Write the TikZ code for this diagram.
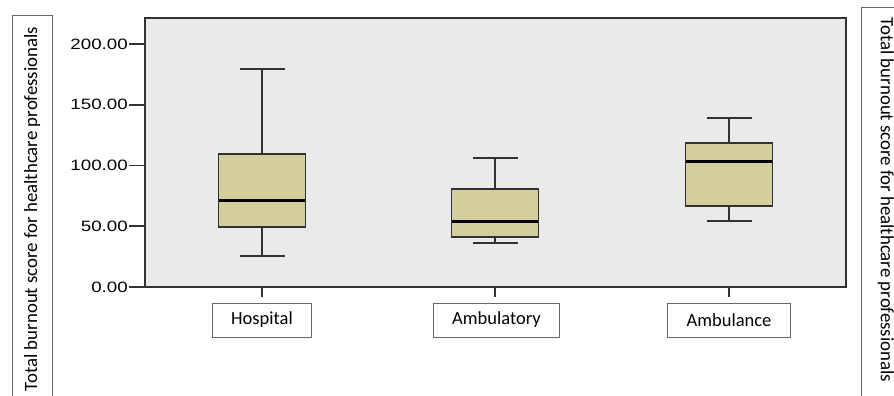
\documentclass[tikz,border=0pt]{standalone}
\usepackage{fontspec}
\setmainfont{Carlito}
\newfontfamily\axisfont[FakeStretch=1.25]{Liberation Sans}
\definecolor{plotbg}{RGB}{234,234,234}
\definecolor{boxtan}{RGB}{211,206,155}
\definecolor{framegray}{RGB}{50,50,50}
\definecolor{labelgray}{RGB}{105,105,105}
\begin{document}
\begin{tikzpicture}[x=1pt, y=-1pt, line join=miter,
		ticklabel/.style={anchor=east, inner sep=0pt, font=\axisfont\fontsize{15}{15}\selectfont},
		catlabel/.style={draw=labelgray, line width=1pt, inner xsep=19pt, minimum height=34pt, font=\fontsize{18.5}{18.5}\selectfont},
		titlelabel/.style={inner sep=0pt, font=\fontsize{18.8}{18.8}\selectfont},
		axisline/.style={draw=framegray, line width=1.6pt},
		whisker/.style={draw=framegray, line width=1.6pt},
		medianline/.style={draw=black, line width=3pt}]
	\useasboundingbox (0,0) rectangle (894,396);
	% side titles
	\draw[labelgray, line width=1pt] (12,400) -- (12,16) -- (52,16) -- (52,400);
	\node[titlelabel, rotate=90] (ytitleL) at (32,209) {Total burnout score for healthcare professionals};
	\draw[labelgray, line width=1pt] (861,400) -- (861,8) -- (900,8);
	\node[titlelabel, rotate=-90] (ytitleR) at (886,200) {Total burnout score for healthcare professionals};
	% plot area
	\fill[plotbg] (145,18) rectangle (846,287);
	\begin{scope}[shift={(0,287)}, y=1.215pt]
		\foreach \v in {0,50,...,200} {
			\draw[axisline] (129,\v) -- (145,\v);
			\node[ticklabel] (tick\v) at (128,\v) {\v.00};
		}
		\foreach \cx/\lo/\qa/\md/\qc/\hi in {262/25.5/49.4/71.6/109.5/179.4, 495/36.2/41.2/54.3/80.7/106, 729/54.3/66.7/103.7/118.5/139} {
			\draw[whisker] (\cx,\lo) -- (\cx,\hi);
			\draw[whisker] (\cx-22.5,\lo) -- (\cx+22.5,\lo);
			\draw[whisker] (\cx-22.5,\hi) -- (\cx+22.5,\hi);
			\filldraw[whisker, fill=boxtan] (\cx-43.5,\qa) rectangle (\cx+43.5,\qc);
			\draw[medianline] (\cx-42.7,\md) -- (\cx+42.7,\md);
		}
	\end{scope}
	\draw[axisline] (145,287) -- (145,18) -- (846,18) -- (846,287) -- cycle;
	% categories
	\foreach \cx in {262,495,729}
		\draw[axisline] (\cx,287) -- (\cx,297);
	\node[catlabel] (hospital) at (262,320) {Hospital};
	\node[catlabel] (ambulatory) at (496.5,320) {Ambulatory};
	\node[catlabel] (ambulance) at (729,320) {Ambulance};
\end{tikzpicture}
\end{document}
